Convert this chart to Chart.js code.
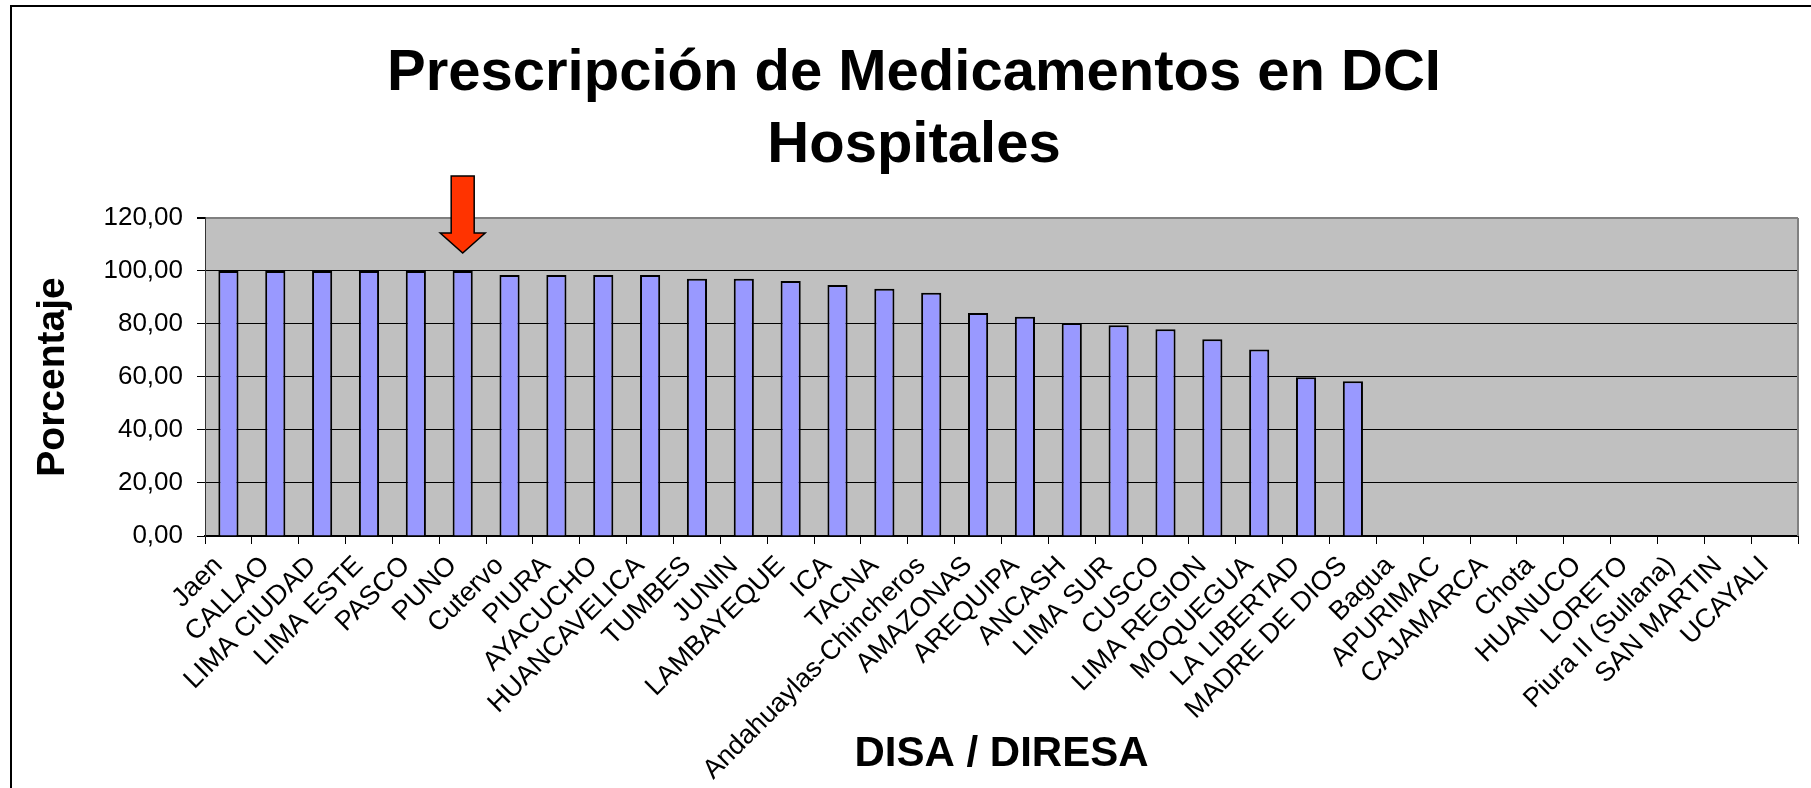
<!DOCTYPE html>
<html lang="es">
<head>
<meta charset="UTF-8">
<title>Prescripción de Medicamentos en DCI - Hospitales</title>
<script src="https://cdn.jsdelivr.net/npm/chart.js"></script>
<style>
  html, body { margin: 0; padding: 0; background: #fff; }
</style>
</head>
<body>
<canvas id="chart" width="1811" height="788"></canvas>
<script>
// DISA / DIRESA, in the order of the chart
const categories = [
  'Jaen', 'CALLAO', 'LIMA CIUDAD', 'LIMA ESTE', 'PASCO', 'PUNO', 'Cutervo',
  'PIURA', 'AYACUCHO', 'HUANCAVELICA', 'TUMBES', 'JUNIN', 'LAMBAYEQUE', 'ICA',
  'TACNA', 'Andahuaylas-Chincheros', 'AMAZONAS', 'AREQUIPA', 'ANCASH',
  'LIMA SUR', 'CUSCO', 'LIMA REGION', 'MOQUEGUA', 'LA LIBERTAD',
  'MADRE DE DIOS', 'Bagua', 'APURIMAC', 'CAJAMARCA', 'Chota', 'HUANUCO',
  'LORETO', 'Piura II (Sullana)', 'SAN MARTIN', 'UCAYALI'
];

// % de prescripcion en DCI (no data for the last nine)
const percentages = [
  100, 100, 100, 100, 100, 100, 98.5, 98.5, 98.5, 98.5, 97.1, 97.1, 96.2,
  94.7, 93.3, 91.8, 84.1, 82.7, 80.4, 79.5, 78.0, 74.2, 70.4, 59.9, 58.4,
  null, null, null, null, null, null, null, null, null
];

const yMin = 0;
const yMax = 120;
const yStep = 20;

const highlighted = 'PUNO';

const FONT = '"Liberation Sans", Arial, Helvetica, sans-serif';

// white page, grey plot area and the black frame around the chart
const backdrop = {
  id: 'backdrop',
  beforeDraw(chart) {
    const { ctx, chartArea: a } = chart;
    ctx.save();
    ctx.fillStyle = '#fff';
    ctx.fillRect(0, 0, chart.width, chart.height);
    ctx.fillStyle = '#C0C0C0';
    ctx.fillRect(a.left, a.top, a.right - a.left, a.bottom - a.top);
    ctx.strokeStyle = '#000';
    ctx.lineWidth = 2;
    ctx.strokeRect(11, 6, chart.width + 20, chart.height + 20);
    ctx.restore();
  },
  afterDatasetsDraw(chart) {
    const { ctx, chartArea: a } = chart;
    ctx.save();
    ctx.strokeStyle = '#808080';
    ctx.lineWidth = 2;
    ctx.beginPath();
    ctx.moveTo(a.right, a.top);
    ctx.lineTo(a.right, a.bottom);
    ctx.stroke();
    ctx.restore();
  }
};

// red arrow pointing at the highlighted bar
const arrow = {
  id: 'arrow',
  afterDatasetsDraw(chart) {
    const i = categories.indexOf(highlighted);
    if (i < 0) return;
    const x = chart.scales.x.getPixelForValue(i);
    const tip = chart.scales.y.getPixelForValue(percentages[i]) - 18;
    const base = tip - 20, top = tip - 77;
    const { ctx } = chart;
    ctx.save();
    ctx.beginPath();
    ctx.moveTo(x - 11.5, top);
    ctx.lineTo(x + 11.5, top);
    ctx.lineTo(x + 11.5, base);
    ctx.lineTo(x + 22.5, base);
    ctx.lineTo(x, tip);
    ctx.lineTo(x - 22.5, base);
    ctx.lineTo(x - 11.5, base);
    ctx.closePath();
    ctx.fillStyle = '#FF3300';
    ctx.fill();
    ctx.strokeStyle = '#000';
    ctx.lineWidth = 1.5;
    ctx.stroke();
    ctx.restore();
  }
};

new Chart(document.getElementById('chart').getContext('2d'), {
  type: 'bar',
  data: {
    labels: categories,
    datasets: [{
      data: percentages,
      backgroundColor: '#9999FF',
      borderColor: '#000',
      borderWidth: 2,
      categoryPercentage: 1,
      barPercentage: 0.43
    }]
  },
  options: {
    responsive: false,
    devicePixelRatio: 1,
    animation: false,
    layout: { padding: { left: 30, right: 13, top: 0, bottom: 0 } },
    plugins: {
      legend: { display: false },
      tooltip: { enabled: false },
      title: {
        display: true,
        text: ['Prescripción de Medicamentos en DCI', 'Hospitales'],
        color: '#000',
        font: { family: FONT, size: 58, weight: 'bold', lineHeight: 1.235 },
        padding: { top: 38.6, bottom: 36.1 }
      }
    },
    scales: {
      x: {
        grid: {
          offset: true,
          drawOnChartArea: false,
          drawTicks: true,
          tickLength: 8,
          color: '#000'
        },
        border: { color: '#000', width: 2 },
        ticks: {
          autoSkip: false,
          maxRotation: 45,
          minRotation: 45,
          padding: 6,
          labelOffset: -10,
          color: '#000',
          font: { family: FONT, size: 27 }
        },
        title: {
          display: true,
          text: 'DISA / DIRESA',
          color: '#000',
          font: { family: FONT, size: 42, weight: 'bold', lineHeight: 1.2 },
          padding: { top: 0, bottom: 8 }
        },
        afterFit(scale) { scale.height = 252; }
      },
      y: {
        min: yMin,
        max: yMax,
        ticks: {
          stepSize: yStep,
          padding: 14,
          color: '#000',
          font: { family: FONT, size: 26 },
          callback: v => v.toFixed(2).replace('.', ',')
        },
        grid: {
          tickLength: 8,
          tickColor: '#000',
          color: c => (c.tick && c.tick.value === yMax) ? '#808080' : '#000',
          lineWidth: c => (c.tick && c.tick.value === yMax) ? 2 : 1
        },
        border: { color: '#333', width: 1 },
        title: {
          display: true,
          text: 'Porcentaje',
          color: '#000',
          font: { family: FONT, size: 39, weight: 'bold', lineHeight: 1.2 },
          padding: { top: 0, bottom: 0 }
        },
        afterFit(scale) { scale.width = 175; }
      }
    }
  },
  plugins: [backdrop, arrow]
});
</script>
</body>
</html>
